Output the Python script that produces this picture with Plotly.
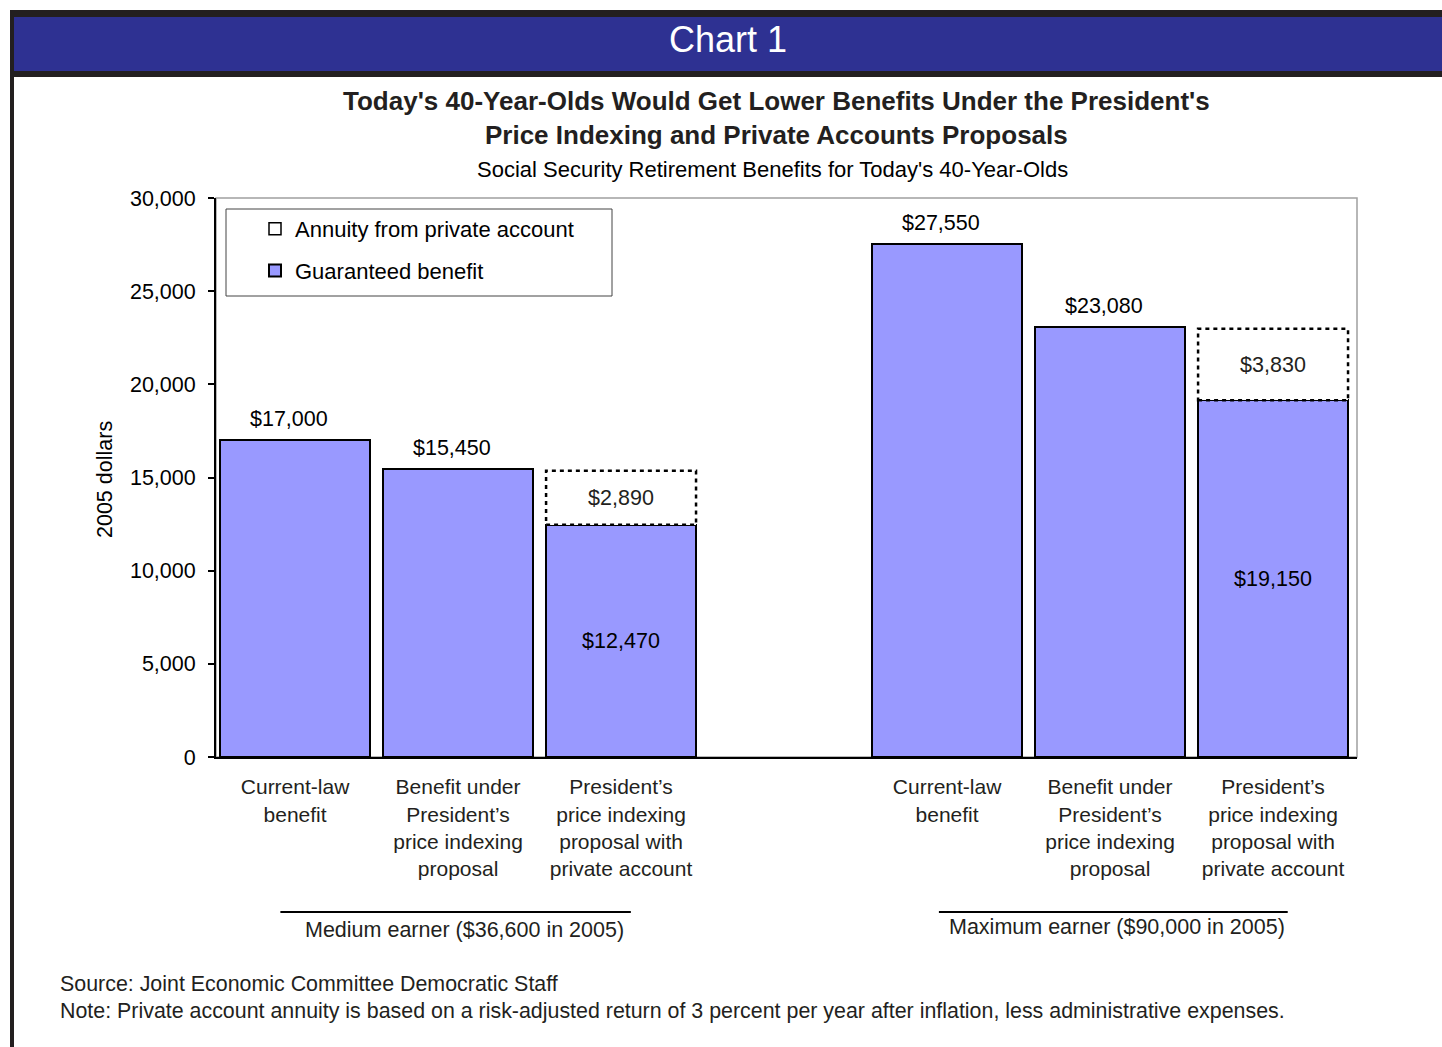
import plotly.graph_objects as go

# ---------------- data ----------------
categories = [
    "Current-law<br>benefit",
    "Benefit under<br>President’s<br>price indexing<br>proposal",
    "President’s<br>price indexing<br>proposal with<br>private account",
    "Current-law<br>benefit",
    "Benefit under<br>President’s<br>price indexing<br>proposal",
    "President’s<br>price indexing<br>proposal with<br>private account",
]
positions = [0, 1, 2, 4, 5, 6]
guaranteed = [17000, 15450, 12470, 27550, 23080, 19150]
annuity = [0, 0, 2890, 0, 0, 3830]
group_labels = ["Medium earner ($36,600 in 2005)", "Maximum earner ($90,000 in 2005)"]
y_ticks = [0, 5000, 10000, 15000, 20000, 25000, 30000]

W, H = 1442, 1047
L, R, T, B = 216, 1357, 198, 757
FONT = "Liberation Sans, Arial, sans-serif"
TXT = "#231F20"
BAR_W = 0.92


def px(x):
    return (x - L) / (R - L)


def py(y):
    return (B - y) / (B - T)


def money(v):
    return "${:,}".format(v)


fig = go.Figure()

# legend dummy for annuity
fig.add_trace(go.Bar(
    x=[None], y=[None], name="Annuity from private account",
    marker=dict(color="white", line=dict(color="black", width=1.5)),
    legendgroup="a", showlegend=True,
))

# guaranteed benefit
fig.add_trace(go.Bar(
    x=positions, y=guaranteed, width=BAR_W, name="Guaranteed benefit",
    marker=dict(color="#9999FF", line=dict(color="black", width=2)),
    text=[money(g) if a > 0 else "" for g, a in zip(guaranteed, annuity)],
    textposition="inside", insidetextanchor="middle",
    textfont=dict(family=FONT, size=21.5, color="black"),
    constraintext="none", legendgroup="g", hoverinfo="skip",
))

# annuity
fig.add_trace(go.Bar(
    x=positions, y=annuity, width=BAR_W, name="Annuity from private account",
    marker=dict(color="white", line=dict(color="white", width=0)),
    text=[money(a) if a > 0 else "" for a in annuity],
    textposition="inside", insidetextanchor="middle",
    textfont=dict(family=FONT, size=21.5, color=TXT),
    constraintext="none", showlegend=False, hoverinfo="skip",
))

shapes = []
# plot frame (gray)
shapes.append(dict(type="rect", xref="paper", yref="paper", x0=0, x1=1, y0=0, y1=1,
                   line=dict(color="#A0A0A0", width=1.5), layer="below"))
# dashed outlines for annuity
for p, g, a in zip(positions, guaranteed, annuity):
    if a > 0:
        shapes.append(dict(type="rect", xref="x", yref="y",
                           x0=p - BAR_W / 2, x1=p + BAR_W / 2, y0=g, y1=g + a,
                           line=dict(color="black", width=2.5, dash="4px,4px"),
                           layer="above"))

# legend box
shapes.append(dict(type="rect", xref="paper", yref="paper",
                   x0=px(226), x1=px(612), y0=py(296), y1=py(209),
                   line=dict(color="#444", width=1), fillcolor="white", layer="below"))

# header
shapes.append(dict(type="rect", xref="paper", yref="paper",
                   x0=px(10), x1=px(1450), y0=py(77), y1=py(10),
                   line=dict(width=0), fillcolor="#231F20", layer="below"))
shapes.append(dict(type="rect", xref="paper", yref="paper",
                   x0=px(14), x1=px(1450), y0=py(71), y1=py(17),
                   line=dict(width=0), fillcolor="#2E3192", layer="below"))
# left border
shapes.append(dict(type="rect", xref="paper", yref="paper",
                   x0=px(10), x1=px(14), y0=py(1060), y1=py(10),
                   line=dict(width=0), fillcolor="#231F20", layer="below"))

# group separator lines
shapes.append(dict(type="line", xref="x", yref="paper", x0=-0.09, x1=2.06,
                   y0=py(912), y1=py(912), line=dict(color="black", width=2)))
shapes.append(dict(type="line", xref="x", yref="paper", x0=3.95, x1=6.09,
                   y0=py(912), y1=py(912), line=dict(color="black", width=2)))

annotations = []
# labels above bars
for p, g, a in zip(positions, guaranteed, annuity):
    if a == 0:
        annotations.append(dict(x=p - 0.04, y=g, xref="x", yref="y", text=money(g),
                                showarrow=False, xanchor="center", yanchor="bottom", yshift=7,
                                font=dict(family=FONT, size=21.5, color="black")))


def ann(x, y, text, size, color=TXT, xanchor="center", **kw):
    d = dict(x=x, y=y, xref="paper", yref="paper", text=text, showarrow=False,
             xanchor=xanchor, yanchor="middle",
             font=dict(family=FONT, size=size, color=color))
    d.update(kw)
    return d


annotations += [
    ann(px(728), py(40), "Chart 1", 36, color="white"),
    ann(px(776), py(118),
        "<b>Today's 40-Year-Olds Would Get Lower Benefits Under the President's<br>Price Indexing and Private Accounts Proposals</b>",
        26, color=TXT),
    ann(px(772), py(170), "Social Security Retirement Benefits for Today's 40-Year-Olds", 22, color="black"),
    ann(px(105), py(480), "2005 dollars", 21.5, color="black", textangle=-90),
    dict(x=1.04, y=py(930), xref="x", yref="paper", text=group_labels[0],
         showarrow=False, xanchor="center", yanchor="middle",
         font=dict(family=FONT, size=21.5, color=TXT)),
    dict(x=5.04, y=py(927), xref="x", yref="paper", text=group_labels[1],
         showarrow=False, xanchor="center", yanchor="middle",
         font=dict(family=FONT, size=21.5, color=TXT)),
    ann(px(58), py(984), "Source: Joint Economic Committee Democratic Staff", 21.4, xanchor="left"),
    ann(px(58), py(1011),
        "Note: Private account annuity is based on a risk-adjusted return of 3 percent per year after inflation, less administrative expenses.",
        21.4, xanchor="left"),
]

fig.update_layout(
    width=W, height=H,
    margin=dict(l=L, r=W - R, t=T, b=H - B, autoexpand=False),
    paper_bgcolor="white", plot_bgcolor="white",
    barmode="stack", bargap=0,
    font=dict(family=FONT, color=TXT),
    showlegend=True,
    legend=dict(x=px(255), y=py(208), xanchor="left", yanchor="top",
                bgcolor="rgba(0,0,0,0)", borderwidth=0, itemwidth=30,
                traceorder="grouped", tracegroupgap=10,
                font=dict(family=FONT, size=22, color="black")),
    xaxis=dict(range=[-0.485, 6.515], tickmode="array", tickvals=positions, ticktext=categories,
               showline=True, linecolor="black", linewidth=2, ticks="",
               showgrid=False, zeroline=False, ticklabelstandoff=10,
               tickfont=dict(family=FONT, size=21, color=TXT)),
    yaxis=dict(range=[0, 30000], tickmode="array", tickvals=y_ticks,
               ticktext=["{:,}".format(v) for v in y_ticks],
               showline=True, linecolor="black", linewidth=2, ticks="outside",
               ticklen=6, tickwidth=1.5, tickcolor="black",
               showgrid=False, zeroline=False, ticklabelstandoff=8,
               tickfont=dict(family=FONT, size=21.5, color="black")),
    shapes=shapes, annotations=annotations,
)

fig.write_html("out.html")
